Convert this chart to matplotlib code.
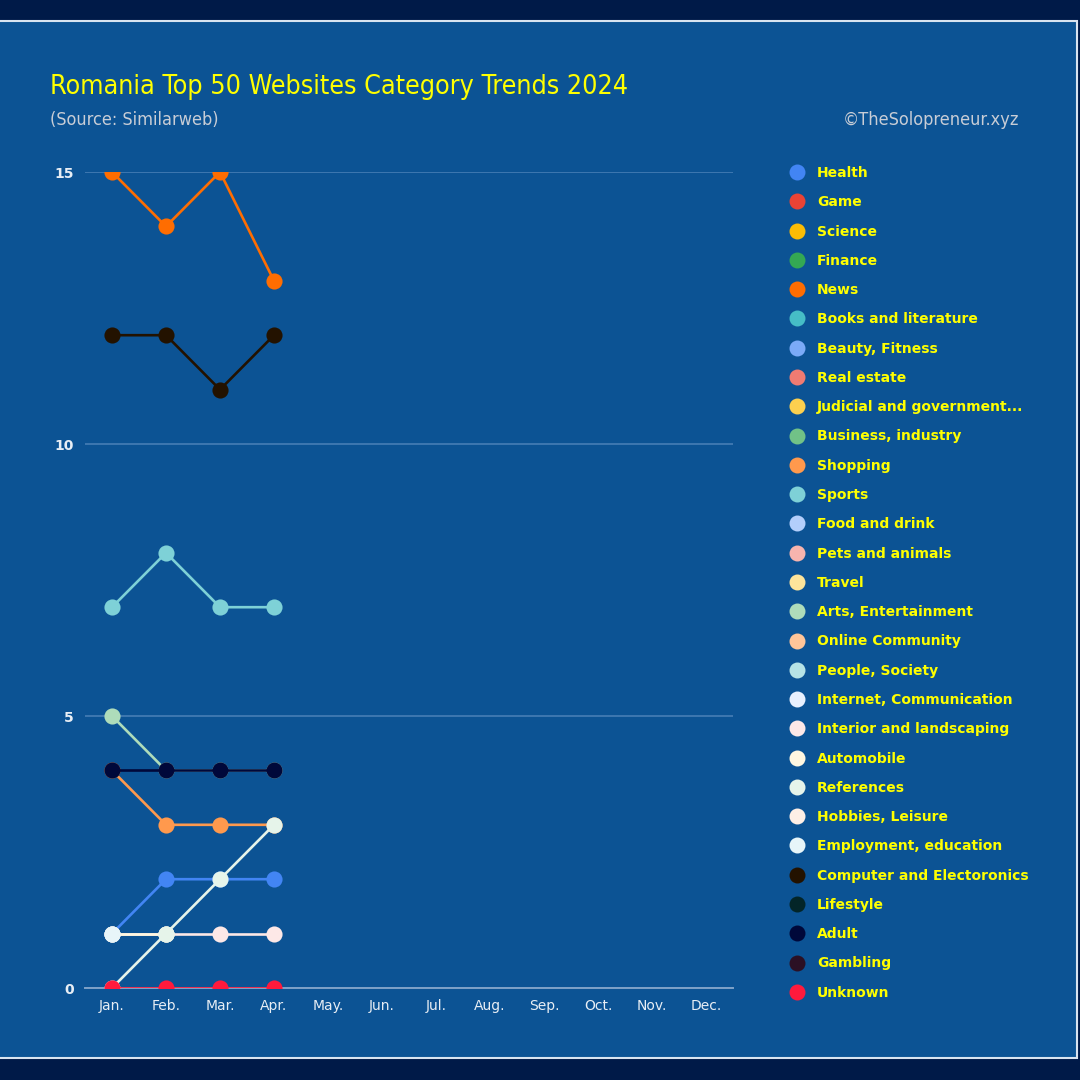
import numpy as np
import matplotlib.pyplot as plt
from matplotlib.lines import Line2D
from matplotlib.patches import Rectangle

# ── data ─────────────────────────────────────────────────────────────────────
MONTHS = ["Jan.", "Feb.", "Mar.", "Apr.", "May.", "Jun.",
          "Jul.", "Aug.", "Sep.", "Oct.", "Nov.", "Dec."]

CATEGORIES = [
    "Health", "Game", "Science", "Finance", "News", "Books and literature",
    "Beauty, Fitness", "Real estate", "Judicial and government...",
    "Business, industry", "Shopping", "Sports", "Food and drink",
    "Pets and animals", "Travel", "Arts, Entertainment", "Online Community",
    "People, Society", "Internet, Communication", "Interior and landscaping",
    "Automobile", "References", "Hobbies, Leisure", "Employment, education",
    "Computer and Electoronics", "Lifestyle", "Adult", "Gambling", "Unknown",
]

COLORS = [
    "#4285F4", "#EA4335", "#FBBC04", "#34A853", "#FF6D01", "#46BDC6",
    "#7BAAF7", "#F07B72", "#FCD04F", "#71C287", "#FF994D", "#7ED1D7",
    "#B3CEFB", "#F7B4AE", "#FDE49B", "#AEDCBA", "#FFC599", "#B6E3E6",
    "#E8F0FE", "#FDE8E7", "#FFF7E1", "#E6F4EA", "#FEEFE6", "#E7F5F9",
    "#231200", "#032528", "#00083A", "#2B1024", "#FF1A3C",
]

nan = np.nan
# rank counts per month (Jan..Apr), only categories that show up
VALUES = {
    "Health":                    [1, 2, 2, 2],
    "News":                      [15, 14, 15, 13],
    "Shopping":                  [4, 3, 3, 3],
    "Sports":                    [7, 8, 7, 7],
    "Arts, Entertainment":       [5, 4, 4, 4],
    "Interior and landscaping":  [1, 1, 1, 1],
    "Automobile":                [1, 1, nan, nan],
    "References":                [0, 1, 2, 3],
    "Employment, education":     [1, nan, nan, nan],
    "Computer and Electoronics": [12, 12, 11, 12],
    "Adult":                     [4, 4, 4, 4],
    "Unknown":                   [0, 0, 0, 0],
}

# ── figure ───────────────────────────────────────────────────────────────────
BG = "#0C5394"
fig = plt.figure(figsize=(10.8, 10.8), dpi=100)
fig.patch.set_facecolor("#001A48")
fig.patches.append(Rectangle((-0.01, 22 / 1080), 1077 / 1080 + 0.01, 1037 / 1080,
                             transform=fig.transFigure, facecolor=BG,
                             edgecolor="#D9E4F0", linewidth=1.5, zorder=-5))

NARROW = dict(family="DejaVu Sans", fontstretch="condensed")

fig.text(50 / 1080, 1 - 87 / 1080, "Romania Top 50 Websites Category Trends 2024",
         color="#FFFF00", fontsize=19.3, va="center", ha="left", **NARROW)
fig.text(50 / 1080, 1 - 120 / 1080, "(Source: Similarweb)",
         color="#C8CDD6", fontsize=13, va="center", ha="left", **NARROW)
fig.text(1019 / 1080, 1 - 120 / 1080, "\u00a9TheSolopreneur.xyz",
         color="#C8CDD6", fontsize=13, va="center", ha="right", **NARROW)

ax = fig.add_axes([85 / 1080, 1 - 988 / 1080, 648 / 1080, 816 / 1080])
ax.set_facecolor("none")

# lines + markers, later categories on top; markers clipped at the axes edges
x = np.arange(4)
z = 3
for name, color in zip(CATEGORIES, COLORS):
    if name not in VALUES:
        continue
    y = np.array(VALUES[name], dtype=float)
    ax.plot(x, y, color=color, linewidth=1.9, zorder=z)
    ax.scatter(x, y, s=135, color=color, linewidths=0, zorder=z + 0.5,
               clip_on=True)
    z += 1

ax.set_xlim(-0.5, 11.5)
ax.set_ylim(0, 15)
ax.set_xticks(np.arange(12))
ax.set_xticklabels(MONTHS, fontsize=10, color="#E8EEF5")
ax.set_yticks([0, 5, 10, 15])
ax.set_yticklabels(["0", "5", "10", "15"], fontsize=10, fontweight="bold",
                   color="#E8EEF5")
ax.tick_params(length=0, pad=8)
ax.tick_params(axis="x", pad=8)
ax.grid(axis="y", color="#3E77B0", linewidth=1.4, zorder=1)
for side in ["top", "right", "left"]:
    ax.spines[side].set_visible(False)
ax.spines["bottom"].set_color("#7FA2C8")
ax.spines["bottom"].set_linewidth(1.4)

# ── legend ───────────────────────────────────────────────────────────────────
handles = [Line2D([], [], linestyle="none", marker="o", markersize=11.5,
                  markerfacecolor=c, markeredgewidth=0) for c in COLORS]
leg = fig.legend(handles, CATEGORIES, loc="upper left",
                 bbox_to_anchor=(783 / 1080, 1 - 159 / 1080),
                 frameon=False, fontsize=10, labelspacing=1.1,
                 handlelength=1.0, handletextpad=0.95, borderpad=0)
for t in leg.get_texts():
    t.set_color("#FFFF00")
    t.set_fontweight("bold")

fig.savefig("out.png", dpi=100, facecolor=fig.get_facecolor())
